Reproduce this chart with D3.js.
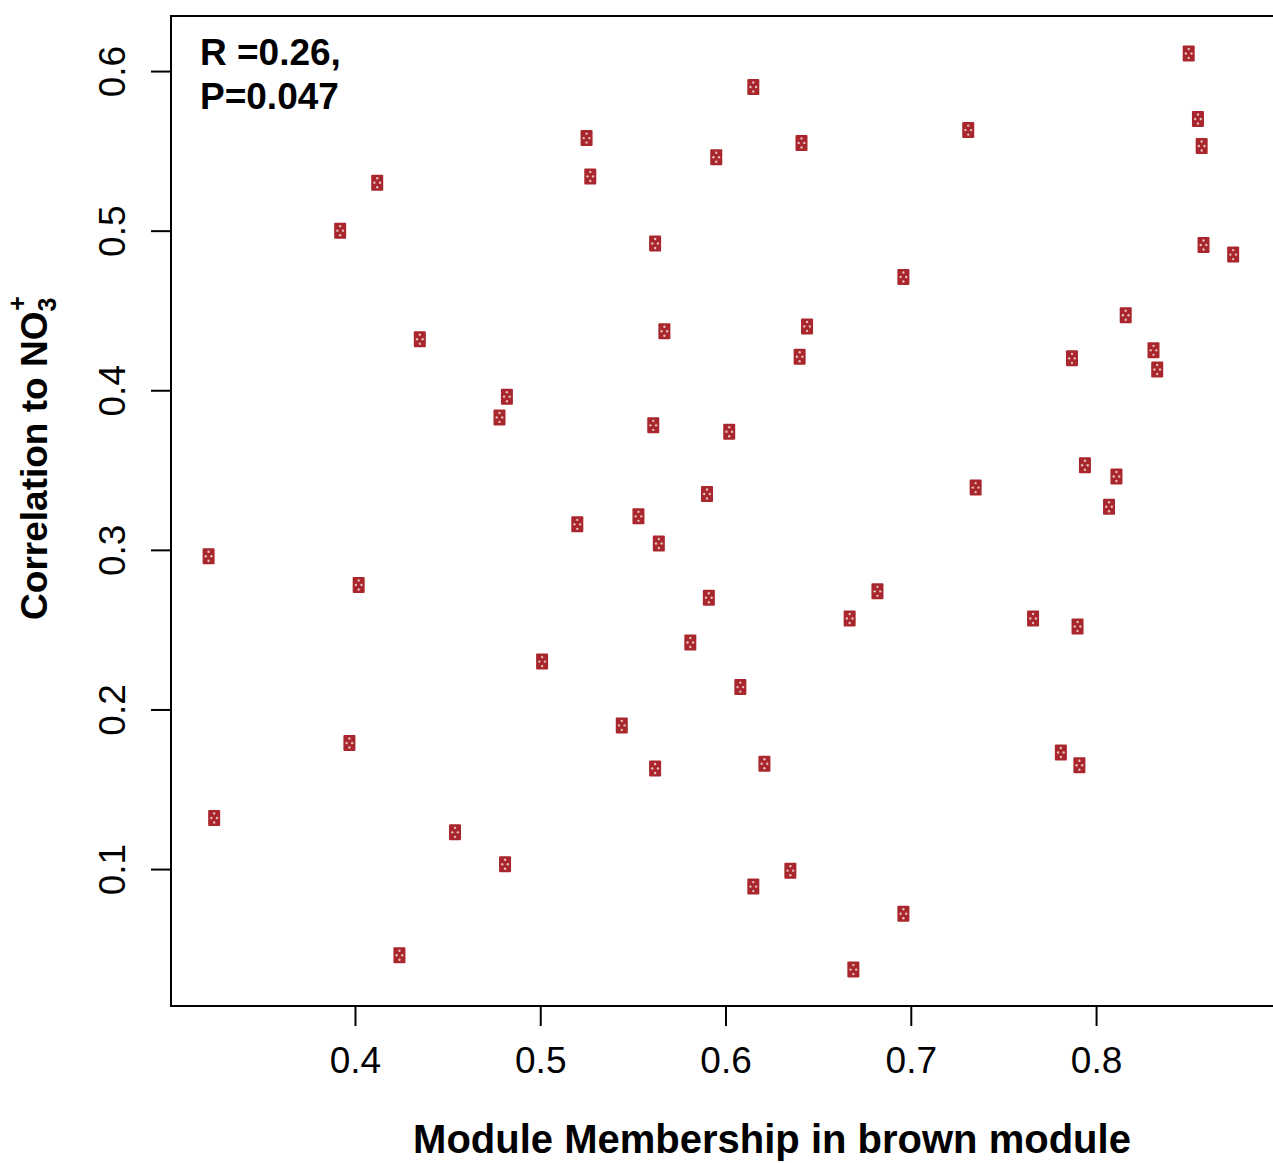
<!DOCTYPE html>
<html>
<head>
<meta charset="utf-8">
<script src="https://cdn.jsdelivr.net/npm/d3@7"></script>
<style>
  body { margin: 0; background: #fff; }
  svg { display: block; font-family: "Liberation Sans", Arial, Helvetica, sans-serif; }
</style>
</head>
<body>
<div id="chart"></div>
<script>
// module membership (x) vs correlation to NO3 (y)
const membership = [0.850, 0.615, 0.525, 0.731, 0.641, 0.595, 0.855, 0.857, 0.527, 0.412,
  0.392, 0.562, 0.858, 0.874, 0.696, 0.816, 0.644, 0.567, 0.435, 0.831,
  0.640, 0.787, 0.833, 0.482, 0.478, 0.561, 0.602, 0.794, 0.811, 0.735,
  0.590, 0.807, 0.553, 0.520, 0.564, 0.321, 0.402, 0.682, 0.591, 0.667,
  0.766, 0.790, 0.581, 0.501, 0.608, 0.544, 0.397, 0.781, 0.621, 0.791,
  0.562, 0.324, 0.454, 0.481, 0.635, 0.615, 0.696, 0.424, 0.669];
const correlation = [0.611, 0.590, 0.558, 0.563, 0.555, 0.546, 0.570, 0.553, 0.534, 0.530,
  0.500, 0.492, 0.491, 0.485, 0.471, 0.447, 0.440, 0.437, 0.432, 0.425,
  0.421, 0.420, 0.413, 0.396, 0.383, 0.378, 0.374, 0.353, 0.346, 0.339,
  0.335, 0.327, 0.321, 0.316, 0.304, 0.296, 0.278, 0.274, 0.270, 0.257,
  0.257, 0.252, 0.242, 0.230, 0.214, 0.190, 0.179, 0.173, 0.166, 0.165,
  0.163, 0.132, 0.123, 0.103, 0.099, 0.089, 0.072, 0.046, 0.037];
const xTicks = [0.4, 0.5, 0.6, 0.7, 0.8];
const yTicks = [0.1, 0.2, 0.3, 0.4, 0.5, 0.6];
const xDomain = [0.3007, 0.8955];
const yDomain = [0.0142, 0.6345];
const statLines = ["R =0.26,", "P=0.047"];

const width = 1273, height = 1163;
const margin = {top: 16, right: 0, bottom: 157, left: 171};

const points = membership.map((m, i) => ({x: m, y: correlation[i]}));

const x = d3.scaleLinear()
    .domain(xDomain)
    .range([margin.left, width - margin.right]);
const y = d3.scaleLinear()
    .domain(yDomain)
    .range([height - margin.bottom, margin.top]);

const svg = d3.select("#chart").append("svg")
    .attr("width", width)
    .attr("height", height);

// box (right edge falls just outside the picture)
svg.append("rect")
    .attr("x", margin.left)
    .attr("y", margin.top)
    .attr("width", width + 10 - margin.left)
    .attr("height", height - margin.bottom - margin.top)
    .attr("fill", "none")
    .attr("stroke", "#000")
    .attr("stroke-width", 2);

const xAxis = g => g.attr("transform", `translate(0,${height - margin.bottom})`)
    .call(d3.axisBottom(x).tickValues(xTicks).tickSize(20).tickPadding(21).tickFormat(d3.format(".1f")))
    .call(g => g.select(".domain").remove())
    .call(g => g.selectAll(".tick line").attr("stroke-width", 2))
    .call(g => g.selectAll("text").attr("font-size", 37).attr("fill", "#000"));

const yAxis = g => g.attr("transform", `translate(${margin.left},0)`)
    .call(d3.axisLeft(y).tickValues(yTicks).tickSize(20).tickFormat(d3.format(".1f")))
    .call(g => g.select(".domain").remove())
    .call(g => g.selectAll(".tick line").attr("stroke-width", 2))
    .call(g => g.selectAll("text")
        .attr("font-size", 37).attr("fill", "#000")
        .attr("x", null).attr("dy", null)
        .attr("text-anchor", "middle")
        .attr("transform", "translate(-46,0) rotate(-90)"));

svg.append("g").call(xAxis);
svg.append("g").call(yAxis);

// markers
const mk = svg.append("g")
    .selectAll("g")
    .data(points)
    .join("g")
    .attr("transform", d => `translate(${x(d.x)},${y(d.y)})`);

mk.append("rect")
    .attr("x", -6).attr("y", -8)
    .attr("width", 12).attr("height", 16)
    .attr("rx", 1)
    .attr("fill", "#a8262c");

const dots = [[0, -4.5], [-2.8, 0], [2.8, 0], [0, 4.5]];
mk.selectAll("circle")
    .data(dots)
    .join("circle")
    .attr("cx", d => d[0])
    .attr("cy", d => d[1])
    .attr("r", 1.2)
    .attr("fill", "#fff")
    .attr("opacity", 0.7);

// stats text
svg.append("g")
    .selectAll("text")
    .data(statLines)
    .join("text")
    .attr("x", 200)
    .attr("y", (d, i) => 65 + i * 44)
    .attr("font-size", 37)
    .attr("font-weight", "bold")
    .text(d => d);

// axis titles
svg.append("text")
    .attr("x", 772)
    .attr("y", 1153)
    .attr("text-anchor", "middle")
    .attr("font-size", 40)
    .attr("font-weight", "bold")
    .text("Module Membership in brown module");

const ylab = svg.append("text")
    .attr("transform", "translate(47,458) rotate(-90)")
    .attr("text-anchor", "middle")
    .attr("font-size", 37)
    .attr("font-weight", "bold");
ylab.append("tspan").text("Correlation to NO");
ylab.append("tspan").attr("font-size", 25).attr("dy", 9).text("3");
ylab.append("tspan").attr("font-size", 25).attr("dx", -13).attr("dy", -30).text("+");
</script>
</body>
</html>
